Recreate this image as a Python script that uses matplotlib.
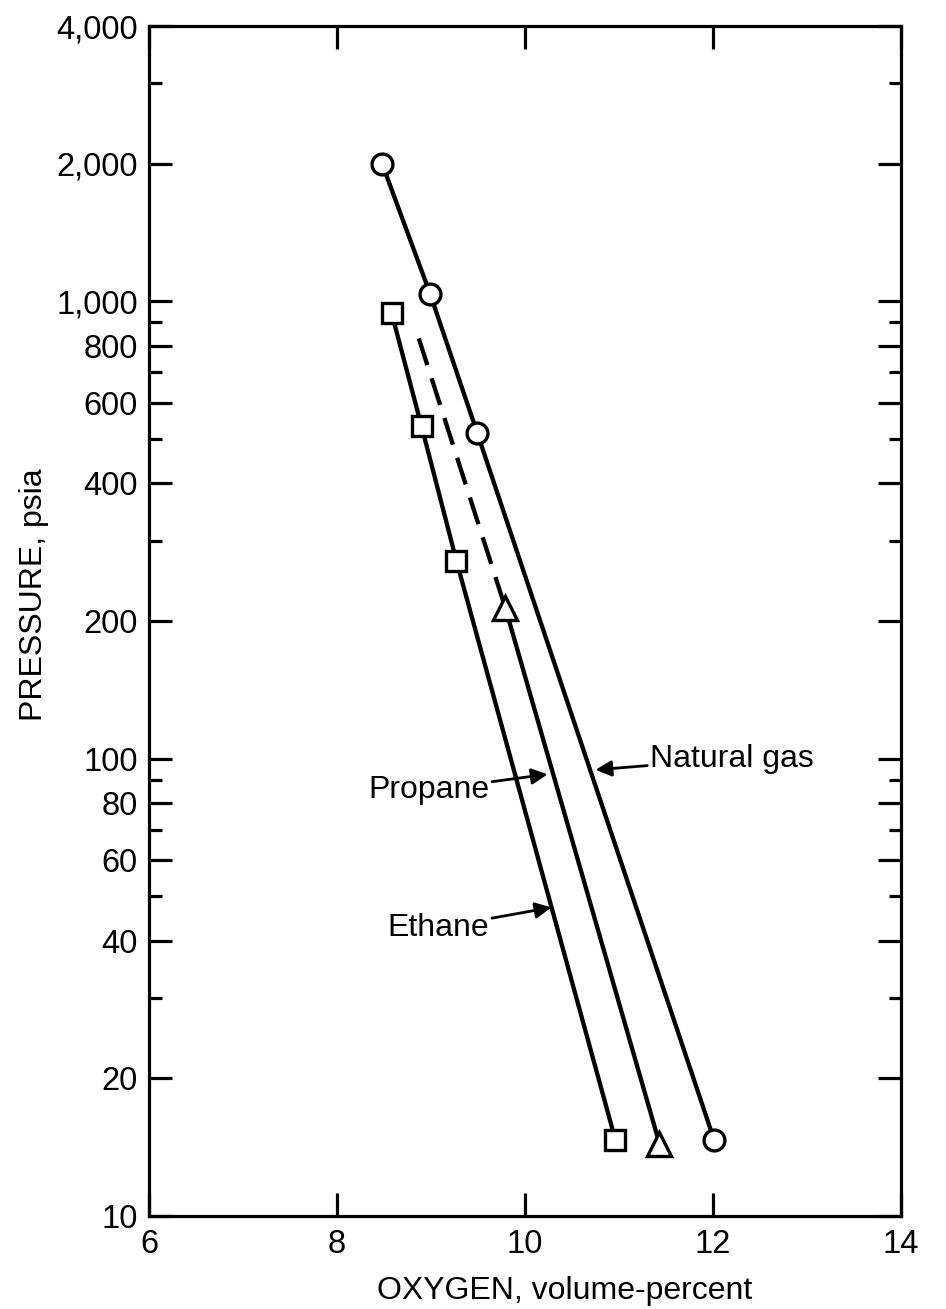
import matplotlib
matplotlib.use('Agg')
import matplotlib.pyplot as plt
from matplotlib.ticker import FixedLocator, FixedFormatter, NullFormatter

plt.rcParams['font.family'] = ['Liberation Sans', 'DejaVu Sans']

# Natural gas (circles)
gas_oxygen = [8.48, 8.99, 9.49, 12.01]
gas_pressure = [2000, 1040, 517, 14.7]

# Ethane (squares)
ethane_oxygen = [8.58, 8.90, 9.27, 10.96]
ethane_pressure = [944, 533, 271, 14.7]

# Propane: dashed extrapolation above the triangle, solid below
propane_dash_oxygen = [8.87, 9.79]
propane_dash_pressure = [830, 214]
propane_oxygen = [9.79, 11.43]
propane_pressure = [214, 14.4]

# axis ticks
y_major = [10, 20, 40, 60, 80, 100, 200, 400, 600, 800, 1000, 2000, 4000]
y_major_labels = ['10', '20', '40', '60', '80', '100', '200', '400', '600',
                  '800', '1,000', '2,000', '4,000']
y_minor = [30, 50, 70, 90, 300, 500, 700, 900, 3000]
x_ticks = [6, 8, 10, 12, 14]
x_labels = ['6', '8', '10', '12', '14']

fig = plt.figure(figsize=(9.46, 13.09), dpi=100)
ax = fig.add_axes([0.1575, 0.071, 0.795, 0.909])

lw = 3.1
ax.plot(gas_oxygen, gas_pressure, color='black', lw=lw, zorder=2)
ax.plot(ethane_oxygen, ethane_pressure, color='black', lw=lw, zorder=2)
ax.plot(propane_oxygen, propane_pressure, color='black', lw=lw, zorder=2)
ax.plot(propane_dash_oxygen, propane_dash_pressure, color='black', lw=lw,
        dashes=[6.5, 3.2], zorder=2)

mk = dict(linestyle='none', mfc='white', mec='black', mew=2.4, zorder=3)
ax.plot(gas_oxygen, gas_pressure, marker='o', ms=15, **mk)
ax.plot(ethane_oxygen, ethane_pressure, marker='s', ms=15, **mk)
ax.plot(propane_oxygen, propane_pressure, marker='^', ms=17, **mk)

ax.set_yscale('log')
ax.set_xlim(6, 14)
ax.set_ylim(10, 4000)

ax.yaxis.set_major_locator(FixedLocator(y_major))
ax.yaxis.set_major_formatter(FixedFormatter(y_major_labels))
ax.yaxis.set_minor_locator(FixedLocator(y_minor))
ax.yaxis.set_minor_formatter(NullFormatter())
ax.xaxis.set_major_locator(FixedLocator(x_ticks))
ax.xaxis.set_major_formatter(FixedFormatter(x_labels))

ax.tick_params(axis='both', which='major', direction='in', length=16.5,
               width=2.3, labelsize=23.5, top=True, right=True)
ax.tick_params(axis='both', which='minor', direction='in', length=9,
               width=2.3, right=True)
ax.tick_params(axis='x', pad=9)
ax.tick_params(axis='y', pad=8)

for s in ax.spines.values():
    s.set_linewidth(2.3)

fig.text(34 / 946, 1 - 595 / 1309, 'PRESSURE, psia', rotation=90,
         ha='center', va='center', fontsize=23)
fig.text(565 / 946, 1 - 1291 / 1309, 'OXYGEN, volume-percent',
         ha='center', va='center', fontsize=23)

arrow = dict(arrowstyle='-|>', lw=2.0, color='black', mutation_scale=24,
             shrinkA=0, shrinkB=0)
ax.annotate('Natural gas', xy=(10.75, 94.6), xytext=(11.33, 100),
            ha='left', va='center', fontsize=23, arrowprops=arrow)
ax.annotate('Propane', xy=(10.24, 92.5), xytext=(9.62, 85.4),
            ha='right', va='center', fontsize=23, arrowprops=arrow)
ax.annotate('Ethane', xy=(10.28, 47.3), xytext=(9.62, 42.7),
            ha='right', va='center', fontsize=23, arrowprops=arrow)

fig.savefig('out.png', dpi=100)
